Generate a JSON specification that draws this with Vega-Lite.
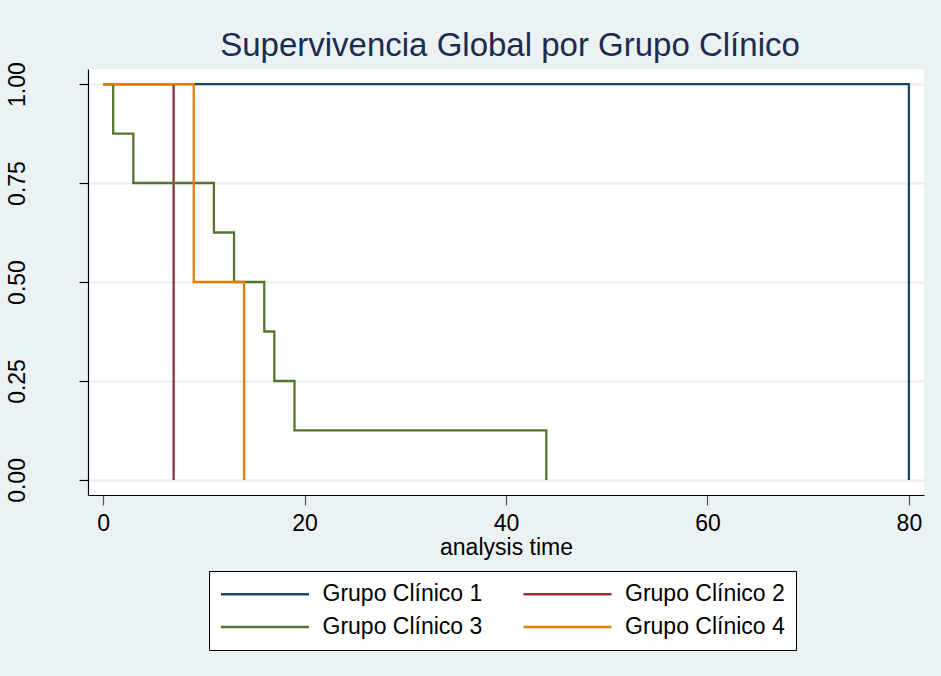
{
  "$schema": "https://vega.github.io/schema/vega-lite/v6.json",
  "autosize": "none",
  "width": 836,
  "height": 426,
  "padding": {"left": 88, "top": 69, "right": 17, "bottom": 181},
  "background": "#EAF2F3",
  "title": {
    "text": "Supervivencia Global por Grupo Clínico",
    "font": "Liberation Sans",
    "fontSize": 33,
    "fontWeight": "normal",
    "color": "#1c2c4e",
    "anchor": "middle",
    "frame": "group",
    "baseline": "alphabetic",
    "offset": 14,
    "dx": 4,
    "dy": 41
  },
  "config": {
    "view": {"stroke": null, "fill": "white"},
    "font": "Liberation Sans"
  },
  "data": {
    "values": [
      {"group": "Grupo Clínico 1", "i": 0, "t": 0, "s": 1},
      {"group": "Grupo Clínico 1", "i": 1, "t": 80, "s": 1},
      {"group": "Grupo Clínico 1", "i": 2, "t": 80, "s": 0},
      {"group": "Grupo Clínico 2", "i": 0, "t": 0, "s": 1},
      {"group": "Grupo Clínico 2", "i": 1, "t": 7, "s": 1},
      {"group": "Grupo Clínico 2", "i": 2, "t": 7, "s": 0},
      {"group": "Grupo Clínico 3", "i": 0, "t": 0, "s": 1},
      {"group": "Grupo Clínico 3", "i": 1, "t": 1, "s": 1},
      {"group": "Grupo Clínico 3", "i": 2, "t": 1, "s": 0.875},
      {"group": "Grupo Clínico 3", "i": 3, "t": 3, "s": 0.875},
      {"group": "Grupo Clínico 3", "i": 4, "t": 3, "s": 0.75},
      {"group": "Grupo Clínico 3", "i": 5, "t": 11, "s": 0.75},
      {"group": "Grupo Clínico 3", "i": 6, "t": 11, "s": 0.625},
      {"group": "Grupo Clínico 3", "i": 7, "t": 13, "s": 0.625},
      {"group": "Grupo Clínico 3", "i": 8, "t": 13, "s": 0.5},
      {"group": "Grupo Clínico 3", "i": 9, "t": 16, "s": 0.5},
      {"group": "Grupo Clínico 3", "i": 10, "t": 16, "s": 0.375},
      {"group": "Grupo Clínico 3", "i": 11, "t": 17, "s": 0.375},
      {"group": "Grupo Clínico 3", "i": 12, "t": 17, "s": 0.25},
      {"group": "Grupo Clínico 3", "i": 13, "t": 19, "s": 0.25},
      {"group": "Grupo Clínico 3", "i": 14, "t": 19, "s": 0.125},
      {"group": "Grupo Clínico 3", "i": 15, "t": 44, "s": 0.125},
      {"group": "Grupo Clínico 3", "i": 16, "t": 44, "s": 0},
      {"group": "Grupo Clínico 4", "i": 0, "t": 0, "s": 1},
      {"group": "Grupo Clínico 4", "i": 1, "t": 9, "s": 1},
      {"group": "Grupo Clínico 4", "i": 2, "t": 9, "s": 0.5},
      {"group": "Grupo Clínico 4", "i": 3, "t": 14, "s": 0.5},
      {"group": "Grupo Clínico 4", "i": 4, "t": 14, "s": 0}
    ]
  },
  "mark": {"type": "line", "strokeWidth": 2.3, "strokeCap": "butt", "strokeJoin": "miter", "clip": false},
  "encoding": {
    "x": {
      "field": "t",
      "type": "quantitative",
      "scale": {"domain": [-1.5, 81.5], "nice": false, "zero": false},
      "axis": {
        "title": "analysis time",
        "values": [0, 20, 40, 60, 80],
        "grid": false,
        "domainColor": "black",
        "domainWidth": 1.2,
        "tickColor": "#555555",
        "tickWidth": 1.2,
        "tickSize": 10,
        "labelFontSize": 23,
        "labelColor": "black",
        "labelPadding": 7,
        "labelBaseline": "top",
        "titleFontSize": 23,
        "titleFontWeight": "normal",
        "titleColor": "black",
        "titlePadding": 1
      }
    },
    "y": {
      "field": "s",
      "type": "quantitative",
      "scale": {"domain": [-0.038, 1.038], "nice": false, "zero": false},
      "axis": {
        "title": null,
        "values": [0, 0.25, 0.5, 0.75, 1],
        "format": ".2f",
        "grid": true,
        "gridColor": "#E6EEF0",
        "gridWidth": 2,
        "domainColor": "black",
        "domainWidth": 1.2,
        "tickColor": "black",
        "tickWidth": 1.2,
        "tickSize": 9,
        "labelFontSize": 23,
        "labelColor": "black",
        "labelAngle": 270,
        "labelAlign": "center",
        "labelBaseline": "alphabetic",
        "labelPadding": 55
      }
    },
    "color": {
      "field": "group",
      "type": "nominal",
      "scale": {
        "domain": ["Grupo Clínico 1", "Grupo Clínico 2", "Grupo Clínico 3", "Grupo Clínico 4"],
        "range": ["#1A476F", "#90353B", "#55752F", "#E37E00"]
      },
      "legend": {
        "title": null,
        "orient": "none",
        "legendX": 121,
        "legendY": 502,
        "direction": "horizontal",
        "columns": 2,
        "symbolType": "M-4,0L4,0",
        "symbolSize": 484,
        "symbolOffset": 33,
        "symbolStrokeWidth": 2.5,
        "labelFontSize": 23,
        "labelColor": "black",
        "labelOffset": 45,
        "columnPadding": 35.5,
        "rowPadding": 8,
        "padding": 10.5,
        "fillColor": "white",
        "strokeColor": "black",
        "labelLimit": 400
      }
    },
    "order": {"field": "i", "type": "quantitative"}
  }
}
